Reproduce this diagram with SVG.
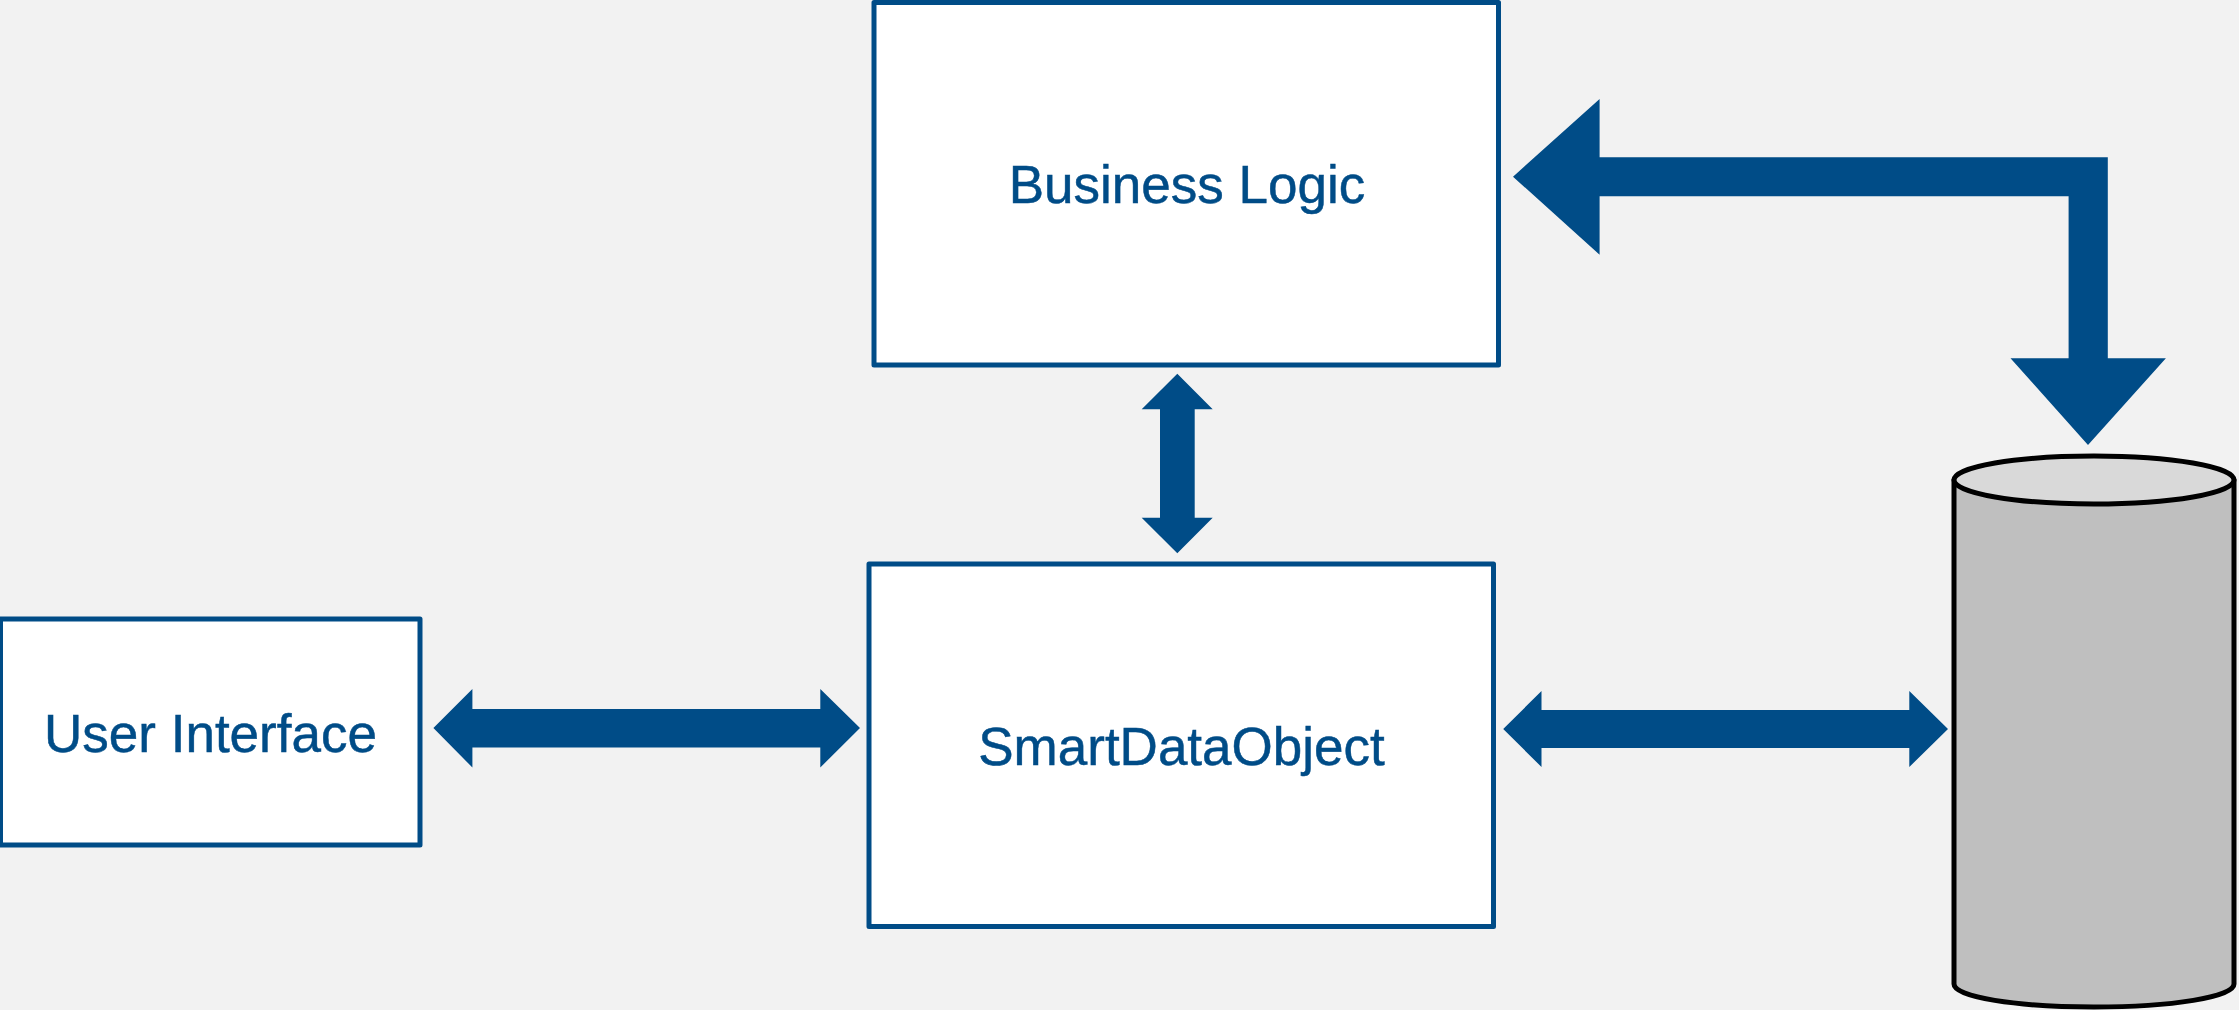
<svg xmlns="http://www.w3.org/2000/svg" width="2239" height="1010" viewBox="0 0 2239 1010">
<style>
.box{fill:#fff;stroke:#004c87;stroke-width:5;stroke-linejoin:round}
.lbl{font-family:"Liberation Sans",Arial,sans-serif;font-size:53px;fill:#004c87;stroke:#004c87;stroke-width:0.5;text-anchor:middle}
.arrow{fill:#004c87}
.cyl{stroke:#000;stroke-width:5;stroke-linejoin:round}
</style>
<rect width="2239" height="1010" fill="#f2f2f2"/>
<g id="connectors">
<polygon class="arrow" points="1513,176.7 1599.6,99 1599.6,157.3 2107.8,157.3 2107.8,358.3 2165.9,358.3 2088,445 2010.5,358.3 2068.6,358.3 2068.6,196.3 1599.6,196.3 1599.6,254.7"/>
<polygon class="arrow" points="1177.3,373.7 1212.7,409.3 1194.7,409.3 1194.7,517.7 1212.7,517.7 1177.3,553.3 1141.7,517.7 1160,517.7 1160,409.3 1141.7,409.3"/>
<polygon class="arrow" points="433.4,728 472.4,689 472.4,709 820.3,709 820.3,689 860,728 820.3,767.5 820.3,747.5 472.4,747.5 472.4,767.5"/>
<polygon class="arrow" points="1503.2,729 1541.5,691 1541.5,710 1909.3,710 1909.3,691 1948,729 1909.3,767 1909.3,748 1541.5,748 1541.5,767"/>
</g>
<g id="business-logic">
<rect class="box" x="874" y="2.5" width="624.5" height="362.5"/>
<text class="lbl" x="1187" y="202.5">Business Logic</text>
</g>
<g id="smart-data-object">
<rect class="box" x="869" y="564" width="624.5" height="362.5"/>
<text class="lbl" x="1181.5" y="765">SmartDataObject</text>
</g>
<g id="user-interface">
<rect class="box" x="0.5" y="619" width="419.5" height="226"/>
<text class="lbl" x="210.5" y="751.5">User Interface</text>
</g>
<g id="database">
<path class="cyl" fill="#bfbfbf" d="M1954 480V984C1954 997 2016 1007 2094 1007S2234 997 2234 984V480Z"/>
<ellipse class="cyl" fill="#d9d9d9" cx="2094" cy="480" rx="140" ry="24"/>
</g>
</svg>
